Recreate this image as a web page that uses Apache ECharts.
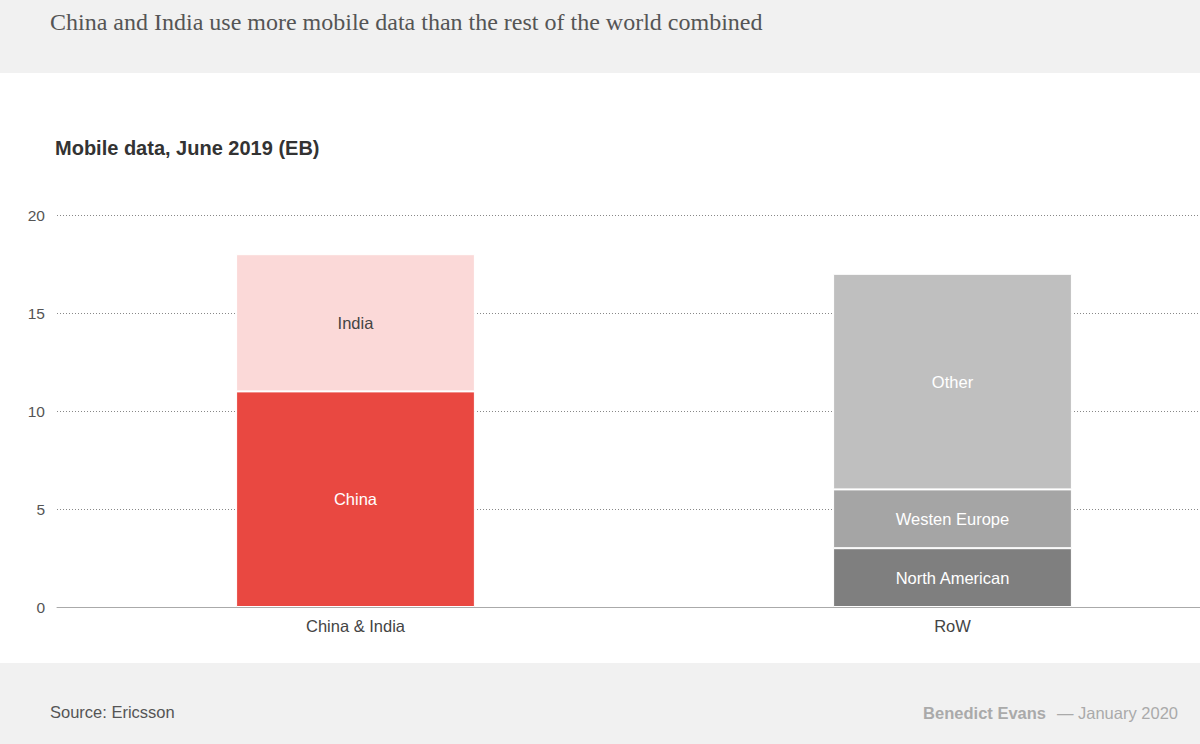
<!DOCTYPE html>
<html>
<head>
<meta charset="utf-8">
<title>Mobile data, June 2019</title>
<script src="https://cdn.jsdelivr.net/npm/echarts@6/dist/echarts.min.js"></script>
<style>
  html, body { margin: 0; padding: 0; background: #fff; }
  #chart { width: 1200px; height: 744px; }
</style>
</head>
<body>
<div id="chart"></div>
<script>
// categories and values (EB)
var categories = ['China & India', 'RoW'];
var china = [11, '-'];
var india = [7, '-'];
var northAmerican = ['-', 3];
var westenEurope = ['-', 3];
var other = ['-', 11];
var yTicks = { min: 0, max: 20, interval: 5 };

var chart = echarts.init(document.getElementById('chart'), null, { renderer: 'svg' });

function seg(name, data, color, labelColor) {
  return {
    name: name,
    type: 'bar',
    stack: 'total',
    data: data,
    barWidth: '40%',
    itemStyle: { color: color, borderColor: '#fff', borderWidth: 1 },
    label: {
      show: true,
      position: 'inside',
      formatter: name,
      color: labelColor,
      fontFamily: 'Liberation Sans',
      fontSize: 16.5
    },
    emphasis: { disabled: true }
  };
}

chart.setOption({
  backgroundColor: '#fff',
  animation: false,
  graphic: [
    { type: 'rect', z: -10, shape: { x: 0, y: 0, width: 1200, height: 73 }, style: { fill: '#f1f1f1' } },
    { type: 'rect', z: -10, shape: { x: 0, y: 663, width: 1200, height: 81 }, style: { fill: '#f1f1f1' } },
    {
      type: 'text', left: 50, top: 10,
      style: { text: 'China and India use more mobile data than the rest of the world combined',
        font: '24px "Liberation Serif"', fill: '#555' }
    },
    {
      type: 'text', left: 55, top: 138,
      style: { text: 'Mobile data, June 2019 (EB)', font: 'bold 20px "Liberation Sans"', fill: '#333' }
    },
    {
      type: 'text', left: 50, top: 703,
      style: { text: 'Source: Ericsson', font: '16.5px "Liberation Sans"', fill: '#555' }
    },
    {
      type: 'text', right: 154, top: 704,
      style: { text: 'Benedict Evans', font: 'bold 16.5px "Liberation Sans"', fill: '#aaa' }
    },
    {
      type: 'text', right: 22, top: 704,
      style: { text: '\u2014 January 2020', font: '16.5px "Liberation Sans"', fill: '#aaa' }
    }
  ],
  grid: { left: 57, top: 215, bottom: 137, right: -51, outerBoundsMode: 'none', containLabel: false },
  xAxis: {
    type: 'category',
    data: categories,
    axisLine: { lineStyle: { color: '#aaa', width: 1 } },
    axisTick: { show: false },
    axisLabel: { color: '#444', fontSize: 16.5, fontFamily: 'Liberation Sans', margin: 10 }
  },
  yAxis: {
    type: 'value',
    min: yTicks.min,
    max: yTicks.max,
    interval: yTicks.interval,
    axisLine: { show: false },
    axisTick: { show: false },
    axisLabel: { color: '#555', fontSize: 15.5, fontFamily: 'Liberation Sans', margin: 12 },
    splitLine: { lineStyle: { color: '#888', type: [1, 2], width: 1 } }
  },
  series: [
    seg('China', china, '#e94841', '#fff'),
    seg('India', india, '#fbd9d8', '#444'),
    seg('North American', northAmerican, '#7f7f7f', '#fff'),
    seg('Westen Europe', westenEurope, '#a5a5a5', '#fff'),
    seg('Other', other, '#bfbfbf', '#fff')
  ]
});
</script>
</body>
</html>
